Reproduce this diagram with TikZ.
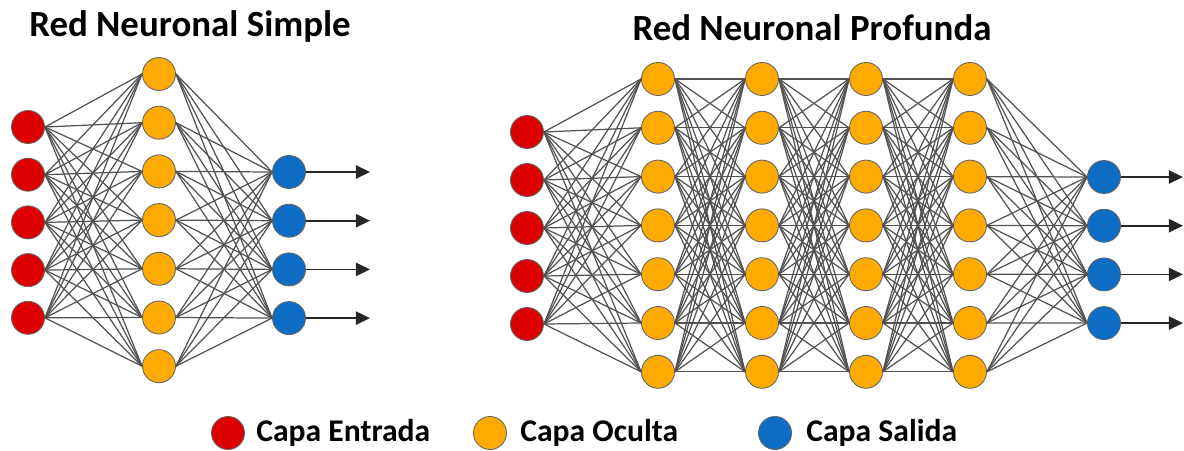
\documentclass[tikz,border=0pt]{standalone}
\usepackage{fontspec}
\setmainfont{Carlito}
\usetikzlibrary{arrows.meta}
\definecolor{NetRed}{HTML}{DC0000}
\definecolor{NetOrange}{HTML}{FFAA00}
\definecolor{NetBlue}{HTML}{0D6CC3}

\begin{document}
\begin{tikzpicture}[x=0.02cm,y=-0.02cm,
        neuron/.style={circle,draw=black!60,line width=0.5pt,
                       minimum size=0.66cm,inner sep=0pt},
        entrada/.style={neuron,fill=NetRed},
        oculta/.style={neuron,fill=NetOrange},
        salida/.style={neuron,fill=NetBlue},
        conn/.style={black!68,line width=0.7pt},
        arrow/.style={-{Triangle[length=8pt,width=7.5pt]},black!85,line width=1pt},
        title/.style={font=\bfseries\fontsize{21}{24}\selectfont,anchor=base},
        leg/.style={font=\bfseries\fontsize{18}{21}\selectfont,
                    anchor=base west,inner sep=0pt}]
  \useasboundingbox (0,0) rectangle (1184,450);

  % titles
  \node[title] (tsimple) at (190,36) {Red Neuronal Simple};
  \node[title] (tdeep) at (812,40) {Red Neuronal Profunda};

  % simple network: 5 - 7 - 4
  \foreach \i in {1,...,5}
    \node[entrada] (si\i) at (28,{127+47.7*(\i-1)}) {};
  \foreach \j in {1,...,7}
    \node[oculta] (sh\j) at (159,{74+48.7*(\j-1)}) {};
  \foreach \k in {1,...,4} {
    \node[salida] (so\k) at (289,{172+48.7*(\k-1)}) {};
    \coordinate (sa\k) at (370,{172+48.7*(\k-1)});
  }
  \foreach \i in {1,...,5}
    \foreach \j in {1,...,7}
      \draw[conn] (si\i.east) -- (sh\j.west);
  \foreach \j in {1,...,7}
    \foreach \k in {1,...,4}
      \draw[conn] (sh\j.east) -- (so\k.west);
  \foreach \k in {1,...,4}
    \draw[arrow] (so\k.east) -- (sa\k);

  % deep network: 5 - 7 - 7 - 7 - 7 - 4
  \foreach \i in {1,...,5}
    \node[entrada] (di\i) at (527,{132+48*(\i-1)}) {};
  \foreach \l/\x in {1/658,2/762,3/866,4/970}
    \foreach \j in {1,...,7}
      \node[oculta] (dh\l-\j) at (\x,{79+48.8*(\j-1)}) {};
  \foreach \k in {1,...,4} {
    \node[salida] (do\k) at (1104,{177+48.7*(\k-1)}) {};
    \coordinate (da\k) at (1183,{177+48.7*(\k-1)});
  }
  \foreach \i in {1,...,5}
    \foreach \j in {1,...,7}
      \draw[conn] (di\i.east) -- (dh1-\j.west);
  \foreach \l [evaluate=\l as \n using int(\l+1)] in {1,2,3}
    \foreach \a in {1,...,7}
      \foreach \b in {1,...,7}
        \draw[conn] (dh\l-\a.east) -- (dh\n-\b.west);
  \foreach \j in {1,...,7}
    \foreach \k in {1,...,4}
      \draw[conn] (dh4-\j.east) -- (do\k.west);
  \foreach \k in {1,...,4}
    \draw[arrow] (do\k.east) -- (da\k);

  % legend
  \node[entrada] (lred) at (228,433) {};
  \node[leg] (tred) at (256,441) {Capa Entrada};
  \node[oculta] (lorange) at (490,433) {};
  \node[leg] (torange) at (520,441) {Capa Oculta};
  \node[salida] (lblue) at (775,433) {};
  \node[leg] (tblue) at (806,441) {Capa Salida};
\end{tikzpicture}
\end{document}
